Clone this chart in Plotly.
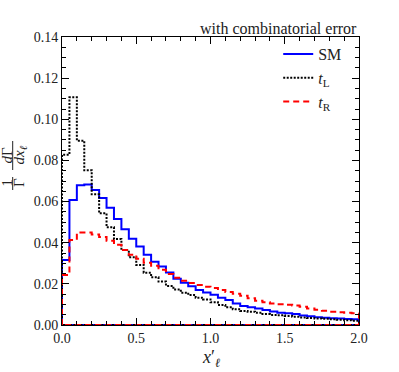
import plotly.graph_objects as go

bin_edges = [round(0.05 * i, 2) for i in range(41)]

sm = [0.0316, 0.0608, 0.0679, 0.0683, 0.0656, 0.0617, 0.0570, 0.0515, 0.0466, 0.0419,
      0.0382, 0.0342, 0.0308, 0.0284, 0.0255, 0.0225, 0.0205, 0.0188, 0.0170, 0.0158,
      0.0147, 0.0133, 0.0122, 0.0105, 0.0092, 0.0086, 0.0080, 0.0073, 0.0066, 0.0060,
      0.0057, 0.0054, 0.0046, 0.0042, 0.0038, 0.0035, 0.0033, 0.0031, 0.0029, 0.0028]

t_l = [0.0828, 0.1107, 0.0896, 0.0752, 0.0635, 0.0543, 0.0475, 0.0418, 0.0365, 0.0329,
       0.0292, 0.0254, 0.0232, 0.0211, 0.0190, 0.0173, 0.0157, 0.0146, 0.0133, 0.0124,
       0.0110, 0.0097, 0.0086, 0.0076, 0.0068, 0.0065, 0.0060, 0.0053, 0.0049, 0.0047,
       0.0044, 0.0040, 0.0037, 0.0034, 0.0032, 0.0030, 0.0028, 0.0025, 0.0023, 0.0021]

t_r = [0.0243, 0.0413, 0.0450, 0.0450, 0.0440, 0.0428, 0.0410, 0.0390, 0.0365, 0.0342,
       0.0322, 0.0302, 0.0288, 0.0268, 0.0248, 0.0230, 0.0215, 0.0204, 0.0194, 0.0186,
       0.0180, 0.0170, 0.0160, 0.0152, 0.0142, 0.0130, 0.0118, 0.0110, 0.0105, 0.0101,
       0.0098, 0.0095, 0.0089, 0.0080, 0.0074, 0.0069, 0.0065, 0.0062, 0.0060, 0.0057]

x_ticks = [0.0, 0.5, 1.0, 1.5, 2.0]
x_tick_labels = ["0.0", "0.5", "1.0", "1.5", "2.0"]
y_ticks = [0.00, 0.02, 0.04, 0.06, 0.08, 0.10, 0.12, 0.14]
y_tick_labels = ["0.00", "0.02", "0.04", "0.06", "0.08", "0.10", "0.12", "0.14"]

FONT = "Liberation Serif"
TXT = "#222"

W, H = 399, 372
PL, PR, PT, PB = 62, 358.7, 37, 325  # plot area in screen pixels
L, R, T, B = PL, W - PR, PT, H - PB


def step_xy(vals):
    xs = [bin_edges[0]] + bin_edges[:-1] + [bin_edges[-1], bin_edges[-1], bin_edges[0]]
    ys = [0.0] + vals + [vals[-1], 0.0, 0.0]
    return xs, ys


fig = go.Figure()
series = [
    ("SM", sm, dict(color="#0000ff", width=2, dash="solid")),
    ("<i>t</i><sub>L</sub>", t_l, dict(color="#000000", width=2, dash="2px,1.5px")),
    ("<i>t</i><sub>R</sub>", t_r, dict(color="#ff0000", width=2, dash="6px,4px")),
]
for name, vals, line in series:
    xs, ys = step_xy(vals)
    fig.add_trace(go.Scatter(x=xs, y=ys, mode="lines", line_shape="hv",
                             name=name, line=line))

axis_common = dict(
    showgrid=False, zeroline=False, showline=True, linecolor="black", linewidth=1,
    mirror="allticks", ticks="inside", ticklen=7, tickcolor="black", tickwidth=1,
    tickfont=dict(family=FONT, size=14, color=TXT),
)
fig.update_xaxes(range=[0, 2], tickvals=x_ticks, ticktext=x_tick_labels,
                 minor=dict(dtick=0.1, ticks="inside", ticklen=4, tickcolor="black", showgrid=False),
                 **axis_common)
fig.update_yaxes(range=[0, 0.14], tickvals=y_ticks, ticktext=y_tick_labels,
                 minor=dict(dtick=0.005, ticks="inside", ticklen=4, tickcolor="black", showgrid=False),
                 **axis_common)

anns = [
    dict(text="with combinatorial error", x=1, y=1, xref="paper", yref="paper",
         xanchor="right", yanchor="bottom", showarrow=False, yshift=-2,
         font=dict(family=FONT, size=16, color=TXT)),
    dict(text="<i>x</i>′<sub><i>ℓ</i></sub>", x=0.5, y=0, xref="paper", yref="paper",
         xanchor="center", yanchor="middle", showarrow=False, yshift=-(358 - PB),
         font=dict(family=FONT, size=18, color=TXT)),
]
# y-axis label as rotated fractions: 1/Γ and dΓ/dx_ℓ
ann_font = dict(family=FONT, size=15, color=TXT)
for txt, px, py in [("1", 6.5, 183), ("Γ", 19, 183), ("<i>d</i>Γ", 6.5, 155), ("<i>dx<sub>ℓ</sub></i>", 19.5, 155)]:
    anns.append(dict(text=txt, x=0, y=0, xref="paper", yref="paper", xanchor="center", yanchor="middle",
                     xshift=px - PL, yshift=PB - py, textangle=-90, showarrow=False, font=ann_font))
fig.update_layout(annotations=anns)

shapes = []
for ya, yb in [(177, 190), (141, 170)]:
    shapes.append(dict(type="line", xref="paper", yref="paper", xsizemode="pixel", ysizemode="pixel",
                       xanchor=0, yanchor=0, x0=12.7 - PL, x1=12.7 - PL, y0=PB - ya, y1=PB - yb,
                       line=dict(color=TXT, width=1)))
fig.update_layout(shapes=shapes)

leg_x = (278 - PL) / (PR - PL)
fig.update_layout(
    width=W, height=H, margin=dict(l=L, r=R, t=T, b=B, autoexpand=False),
    paper_bgcolor="white", plot_bgcolor="white",
    showlegend=True,
    legend=dict(x=leg_x, y=1.0, xanchor="left", yanchor="top", bgcolor="rgba(0,0,0,0)",
                font=dict(family=FONT, size=16, color=TXT), tracegroupgap=0),
)

fig.write_html("out.html", config={"displayModeBar": False},
               post_script="document.body.style.margin='0';document.body.style.overflow='hidden';")
